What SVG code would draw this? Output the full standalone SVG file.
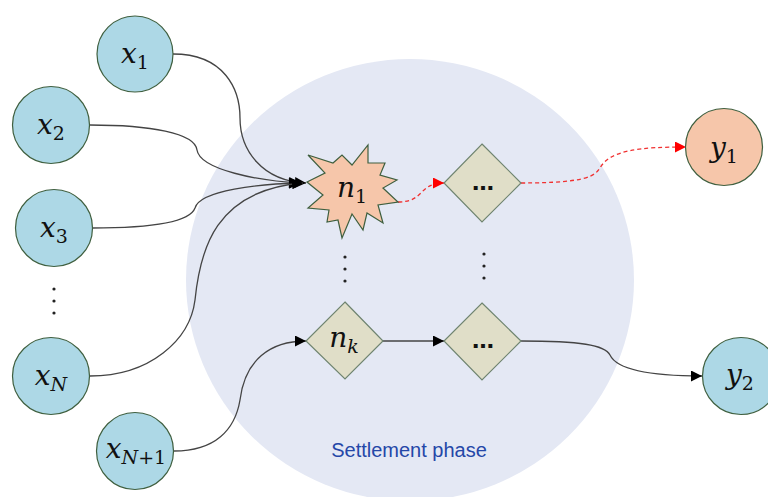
<svg xmlns="http://www.w3.org/2000/svg" width="768" height="497" viewBox="0 0 768 497">
<defs>
<style>
.in{fill:#add8e6;stroke:#3f5f3f;stroke-width:1.2}
.out{fill:#f6c6aa;stroke:#3f5f3f;stroke-width:1.2}
.dia{fill:#e0dec8;stroke:#6f8470;stroke-width:1.2}
.m{font-family:"DejaVu Serif",serif;font-style:italic;font-size:28px;fill:#111}
.s{font-style:normal;font-size:19px}
.sk{font-size:19px}
.el{font-family:"DejaVu Sans",sans-serif;font-size:22px;font-weight:bold;fill:#111}
.c{fill:none;stroke:#444;stroke-width:1.3}
.r{fill:none;stroke:#f03030;stroke-width:1.3;stroke-dasharray:4 3}
.dot{fill:#222}
</style>
<marker id="ab" viewBox="0 0 10 10" refX="10" refY="5" markerWidth="14" markerHeight="11" markerUnits="userSpaceOnUse" orient="auto"><path d="M0,0 L10,5 L0,10 z" fill="#000"/></marker>
<marker id="ar" viewBox="0 0 10 10" refX="10" refY="5" markerWidth="14" markerHeight="11" markerUnits="userSpaceOnUse" orient="auto"><path d="M0,0 L10,5 L0,10 z" fill="#f00"/></marker>
</defs>
<rect width="768" height="497" fill="#fff"/>
<g id="phase">
<ellipse cx="410" cy="280" rx="224" ry="221" fill="#e4e8f4"/>
<text x="409" y="457" text-anchor="middle" font-family="Liberation Sans, Arial, sans-serif" font-size="20" fill="#2447a8">Settlement phase</text>
</g>
<g id="connectors">
<path class="c" d="M173,54 C225,54 240,90 240,118 C240,150 262,181 306,183" marker-end="url(#ab)"/>
<path class="c" d="M90,125 C150,125 195,133 197,150 C200,170 260,181 300,183" marker-end="url(#ab)"/>
<path class="c" d="M92,228 C150,228 190,222 195,208 C200,190 260,184 300,183" marker-end="url(#ab)"/>
<path class="c" d="M90,376 C150,376 190,340 195,300 C200,250 215,190 303,183" marker-end="url(#ab)"/>
<path class="c" d="M174,451 C215,451 235,430 240,400 C245,360 270,341 306,341" marker-end="url(#ab)"/>
<path class="c" d="M383,341 L444,341" marker-end="url(#ab)"/>
<path class="c" d="M521,341 C580,341 605,345 610,355 C618,372 660,376 702,376" marker-end="url(#ab)"/>
<path class="r" d="M398,202 C425,202 418,183 444,183" marker-end="url(#ar)"/>
<path class="r" d="M521,183 C590,183 595,175 600,168 C610,150 640,147 686,147" marker-end="url(#ar)"/>
</g>
<g id="x1"><circle class="in" cx="135" cy="54" r="38"/><text class="m" x="135" y="63" text-anchor="middle">x<tspan class="s" dy="6">1</tspan></text></g>
<g id="x2"><circle class="in" cx="51" cy="125" r="38.5"/><text class="m" x="51" y="134" text-anchor="middle">x<tspan class="s" dy="6">2</tspan></text></g>
<g id="x3"><circle class="in" cx="54" cy="228" r="38.5"/><text class="m" x="54" y="237" text-anchor="middle">x<tspan class="s" dy="6">3</tspan></text></g>
<g id="xdots"><circle class="dot" cx="54" cy="289" r="1.6"/><circle class="dot" cx="54" cy="301" r="1.6"/><circle class="dot" cx="54" cy="313" r="1.6"/></g>
<g id="xN"><circle class="in" cx="51" cy="376" r="38.5"/><text class="m" x="51" y="385" text-anchor="middle">x<tspan class="sk" dy="6">N</tspan></text></g>
<g id="xN1"><circle class="in" cx="135" cy="451" r="38.5"/><text class="m" x="136" y="458" text-anchor="middle">x<tspan class="sk" dy="6">N</tspan><tspan class="s">+1</tspan></text></g>
<g id="n1"><polygon class="out" points="307,182 325,173 308,155 333,163 342,155 352,165 368,145 368,163 385,163 380,175 397,180 383,188 398,202 378,205 383,223 367,213 363,230 352,214 342,238 338,220 327,222 329,210 308,208 323,195"/><text class="m" x="352" y="197" text-anchor="middle">n<tspan class="s" dy="6">1</tspan></text></g>
<g id="ndots"><circle class="dot" cx="345" cy="257" r="1.6"/><circle class="dot" cx="345" cy="269" r="1.6"/><circle class="dot" cx="345" cy="281" r="1.6"/></g>
<g id="d1"><polygon class="dia" points="482,144 521,183 482,222 444,183"/><text class="el" x="483" y="190" text-anchor="middle">…</text></g>
<g id="ddots"><circle class="dot" cx="484" cy="254" r="1.6"/><circle class="dot" cx="484" cy="266" r="1.6"/><circle class="dot" cx="484" cy="278" r="1.6"/></g>
<g id="nk"><polygon class="dia" points="345,302 383,341 345,379 306,341"/><text class="m" x="344" y="347" text-anchor="middle">n<tspan class="sk" dy="6">k</tspan></text></g>
<g id="d2"><polygon class="dia" points="482,303 521,341 482,380 444,341"/><text class="el" x="483" y="348" text-anchor="middle">…</text></g>
<g id="y1"><circle class="out" cx="724" cy="147" r="38.5"/><text class="m" x="724" y="157" text-anchor="middle">y<tspan class="s" dy="6">1</tspan></text></g>
<g id="y2"><circle class="in" cx="741" cy="376" r="38.5"/><text class="m" x="740" y="384" text-anchor="middle">y<tspan class="s" dy="6">2</tspan></text></g>
</svg>
